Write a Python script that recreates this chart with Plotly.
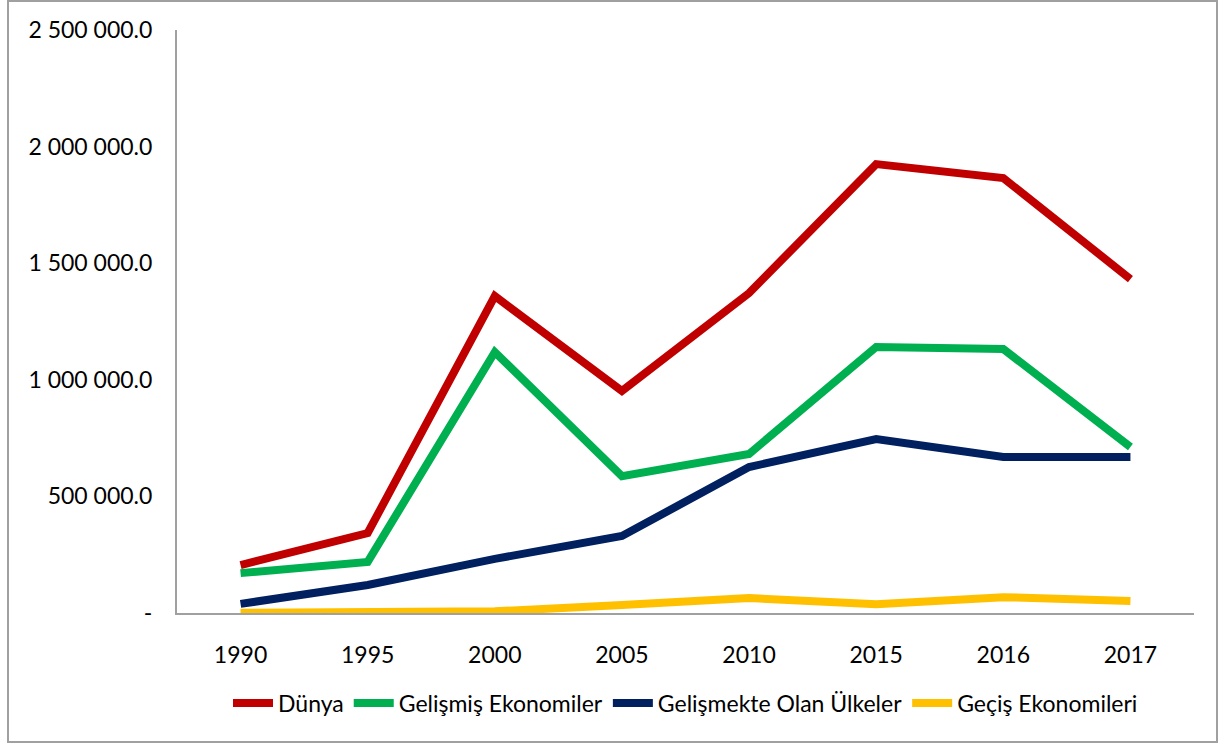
import plotly.graph_objects as go

# Years on the category axis
years = ["1990", "1995", "2000", "2005", "2010", "2015", "2016", "2017"]

# Series values
dunya = [205800, 343000, 1359000, 952000, 1372000, 1925000, 1865000, 1432000]
gelismis = [171000, 219000, 1119000, 587000, 682000, 1141000, 1132000, 712000]
gelismekte = [39000, 120000, 232000, 330000, 626000, 746000, 669000, 669000]
gecis = [1000, 5000, 7000, 34000, 64000, 38000, 68000, 51000]

# Y axis ticks
tick_vals = [0, 500000, 1000000, 1500000, 2000000, 2500000]
tick_text = ["-", "500 000.0", "1 000 000.0", "1 500 000.0", "2 000 000.0", "2 500 000.0"]

series = [
    ("Dünya", dunya, "#c00000"),
    ("Gelişmiş Ekonomiler", gelismis, "#00b050"),
    ("Gelişmekte Olan Ülkeler", gelismekte, "#002060"),
    ("Geçiş Ekonomileri", gecis, "#ffc000"),
]

fig = go.Figure()
for name, vals, color in series:
    fig.add_trace(go.Scatter(
        x=years, y=vals, name=name, mode="lines",
        line=dict(color=color, width=8),
    ))

W, H = 1219, 744
ml, mr, mt, mb = 177, 25, 30, 131
pw, ph = W - ml - mr, H - mt - mb

def px_x(p):
    return (p - ml) / pw

def px_y(p):
    return (H - mb - p) / ph

fig.update_layout(
    width=W, height=H,
    margin=dict(l=ml, r=mr, t=mt, b=mb),
    paper_bgcolor="white", plot_bgcolor="white",
    font=dict(family="Lato", size=23, color="black"),
    showlegend=True,
    legend=dict(
        orientation="h", x=0.5, xanchor="center", y=px_y(703), yanchor="middle",
        font=dict(size=23), itemwidth=40, traceorder="normal",
    ),
    xaxis=dict(
        type="category", range=[-0.5, len(years) - 0.5],
        showgrid=False, showline=True, linecolor="#a0a0a0",
        linewidth=2, ticks="", ticklabelstandoff=20,
    ),
    yaxis=dict(
        range=[0, 2500000], tickvals=tick_vals, ticktext=tick_text,
        showgrid=False, showline=True, linecolor="#a0a0a0", linewidth=2,
        ticks="", zeroline=False, ticklabelstandoff=18,
    ),
    shapes=[dict(
        type="rect", xref="paper", yref="paper",
        x0=px_x(8), x1=px_x(1217), y0=px_y(742), y1=px_y(1),
        line=dict(color="#a0a0a0", width=2), layer="below",
    )],
)

fig.write_html("out.html")
